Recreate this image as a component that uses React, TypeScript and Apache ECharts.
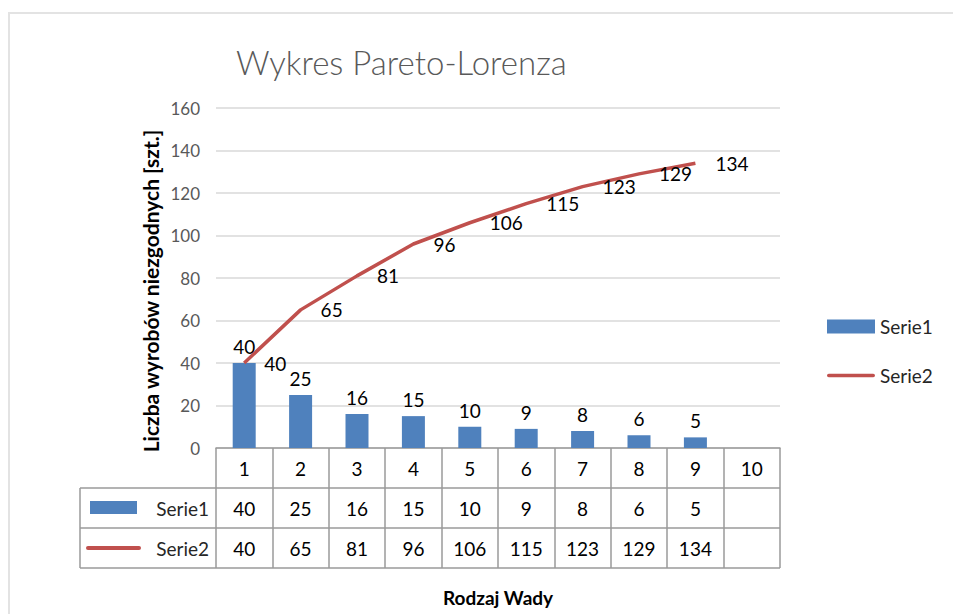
import React, { useEffect, useRef } from "react";
import * as echarts from "echarts";

const categories = ["1", "2", "3", "4", "5", "6", "7", "8", "9", "10"];
const serie1: (number | null)[] = [40, 25, 16, 15, 10, 9, 8, 6, 5, null];
const serie2: (number | null)[] = [40, 65, 81, 96, 106, 115, 123, 129, 134, null];
const seriesNames = ["Serie1", "Serie2"];
const titleText = "Wykres Pareto-Lorenza";
const yAxisTitle = "Liczba wyrobów niezgodnych [szt.]";
const xAxisTitle = "Rodzaj Wady";

const BLUE = "#4F81BD";
const RED = "#C0504D";
const FONT = "Lato, 'Open Sans', sans-serif";
const TABLE_LINE = "#9a9a9a";

export default function App() {
  const ref = useRef<HTMLDivElement>(null);

  useEffect(() => {
    document.body.style.margin = "0";
    const chart = echarts.init(ref.current!, null, { renderer: "svg" });
    const gridLeft = 216;
    const gridRight = 780;
    const gridTop = 108;
    const gridBottom = 448;
    const rowH = 40;

    chart.setOption({
      animation: false,
      backgroundColor: "#ffffff",
      textStyle: { fontFamily: FONT },
      title: {
        text: titleText,
        left: 231,
        top: 40,
        textStyle: { fontSize: 33, fontWeight: 300, color: "#595959", fontFamily: FONT },
      },
      legend: {
        orient: "vertical",
        left: 822,
        top: 312,
        itemWidth: 48,
        itemHeight: 14,
        itemGap: 30,
        textStyle: { fontSize: 19, color: "#262626", fontFamily: FONT },
        data: [
          { name: seriesNames[0], icon: "rect" },
          { name: seriesNames[1], icon: "path://M2,0 H52 A2,2 0 0 1 52,4 H2 A2,2 0 0 1 2,0 Z" },
        ],
      },
      grid: {
        left: gridLeft,
        right: 953 - gridRight,
        top: gridTop,
        bottom: 614 - gridBottom,
        containLabel: false,
      },
      xAxis: {
        type: "category",
        data: categories,
        boundaryGap: true,
        name: xAxisTitle,
        nameLocation: "middle",
        nameGap: 140,
        nameTextStyle: { fontSize: 19, fontWeight: "bold", color: "#000", fontFamily: FONT },
        axisLine: { show: true, lineStyle: { color: TABLE_LINE, width: 1.5 } },
        axisTick: { show: true, length: rowH * 3, lineStyle: { color: TABLE_LINE, width: 1.5 } },
        axisLabel: { margin: 11, fontSize: 19, color: "#000", fontFamily: FONT },
      },
      yAxis: {
        type: "value",
        min: 0,
        max: 160,
        interval: 20,
        axisLine: { show: false },
        axisTick: { show: false },
        axisLabel: { fontSize: 17, color: "#595959", margin: 16, fontFamily: FONT },
        splitLine: { lineStyle: { color: "#d9d9d9", width: 1.5 } },
      },
      series: [
        {
          name: seriesNames[0],
          type: "bar",
          data: serie1,
          barWidth: 23,
          itemStyle: { color: BLUE },
          label: { show: true, position: "top", distance: 7, fontSize: 19, color: "#000", fontFamily: FONT },
          z: 2,
        },
        {
          name: seriesNames[1],
          type: "line",
          data: serie2,
          symbol: "circle",
          symbolSize: 0.01,
          showSymbol: true,
          lineStyle: { color: RED, width: 3.5 },
          itemStyle: { color: RED },
          label: { show: true, position: "right", distance: 20, fontSize: 19, color: "#000", fontFamily: FONT },
          z: 3,
        },
      ],
    });

    const rows = [serie1, serie2];
    const elements: any[] = [];
    elements.push({
      type: "rect",
      shape: { x: 9, y: 13, width: 980, height: 640 },
      style: { fill: "none", stroke: "#e3e3e3", lineWidth: 2 },
      silent: true,
    });
    const tableLeft = 80;
    const r1 = gridBottom + rowH;
    const r2 = r1 + rowH;
    const r3 = r2 + rowH;
    [r1, r2, r3].forEach((y) =>
      elements.push({
        type: "line",
        shape: { x1: tableLeft, y1: y, x2: gridRight, y2: y },
        style: { stroke: TABLE_LINE, lineWidth: 1.5 },
      })
    );
    elements.push({
      type: "line",
      shape: { x1: tableLeft, y1: r1, x2: tableLeft, y2: r3 },
      style: { stroke: TABLE_LINE, lineWidth: 1.5 },
    });
    elements.push({
      type: "rect",
      shape: { x: 90, y: r1 + 13, width: 47, height: 13 },
      style: { fill: BLUE },
    });
    elements.push({
      type: "line",
      shape: { x1: 88, y1: r2 + 20, x2: 139, y2: r2 + 20 },
      style: { stroke: RED, lineWidth: 4, lineCap: "round" },
    });
    [0, 1].forEach((ri) => {
      elements.push({
        type: "text",
        x: 209,
        y: gridBottom + rowH * (ri + 1) + rowH / 2,
        style: {
          text: seriesNames[ri],
          fontSize: 19,
          fontFamily: FONT,
          fill: "#262626",
          align: "right",
          verticalAlign: "middle",
        },
      });
    });
    categories.forEach((c, i) => {
      const cx = chart.convertToPixel({ xAxisIndex: 0 }, c) as number;
      rows.forEach((arr, ri) => {
        const v = arr[i];
        if (v == null) return;
        elements.push({
          type: "text",
          x: cx,
          y: gridBottom + rowH * (ri + 1) + rowH / 2,
          style: {
            text: String(v),
            fontSize: 19,
            fontFamily: FONT,
            fill: "#000",
            align: "center",
            verticalAlign: "middle",
          },
        });
      });
    });
    elements.push({
      type: "text",
      x: 150,
      y: 291,
      rotation: Math.PI / 2,
      style: {
        text: yAxisTitle,
        fontSize: 21,
        fontWeight: "bold",
        fontFamily: FONT,
        fill: "#000",
        align: "center",
        verticalAlign: "middle",
      },
    });
    chart.setOption({ graphic: { elements } });

    return () => chart.dispose();
  }, []);

  return (
    <div
      ref={ref}
      style={{ position: "fixed", left: 0, top: 0, width: 953, height: 614 }}
    />
  );
}
